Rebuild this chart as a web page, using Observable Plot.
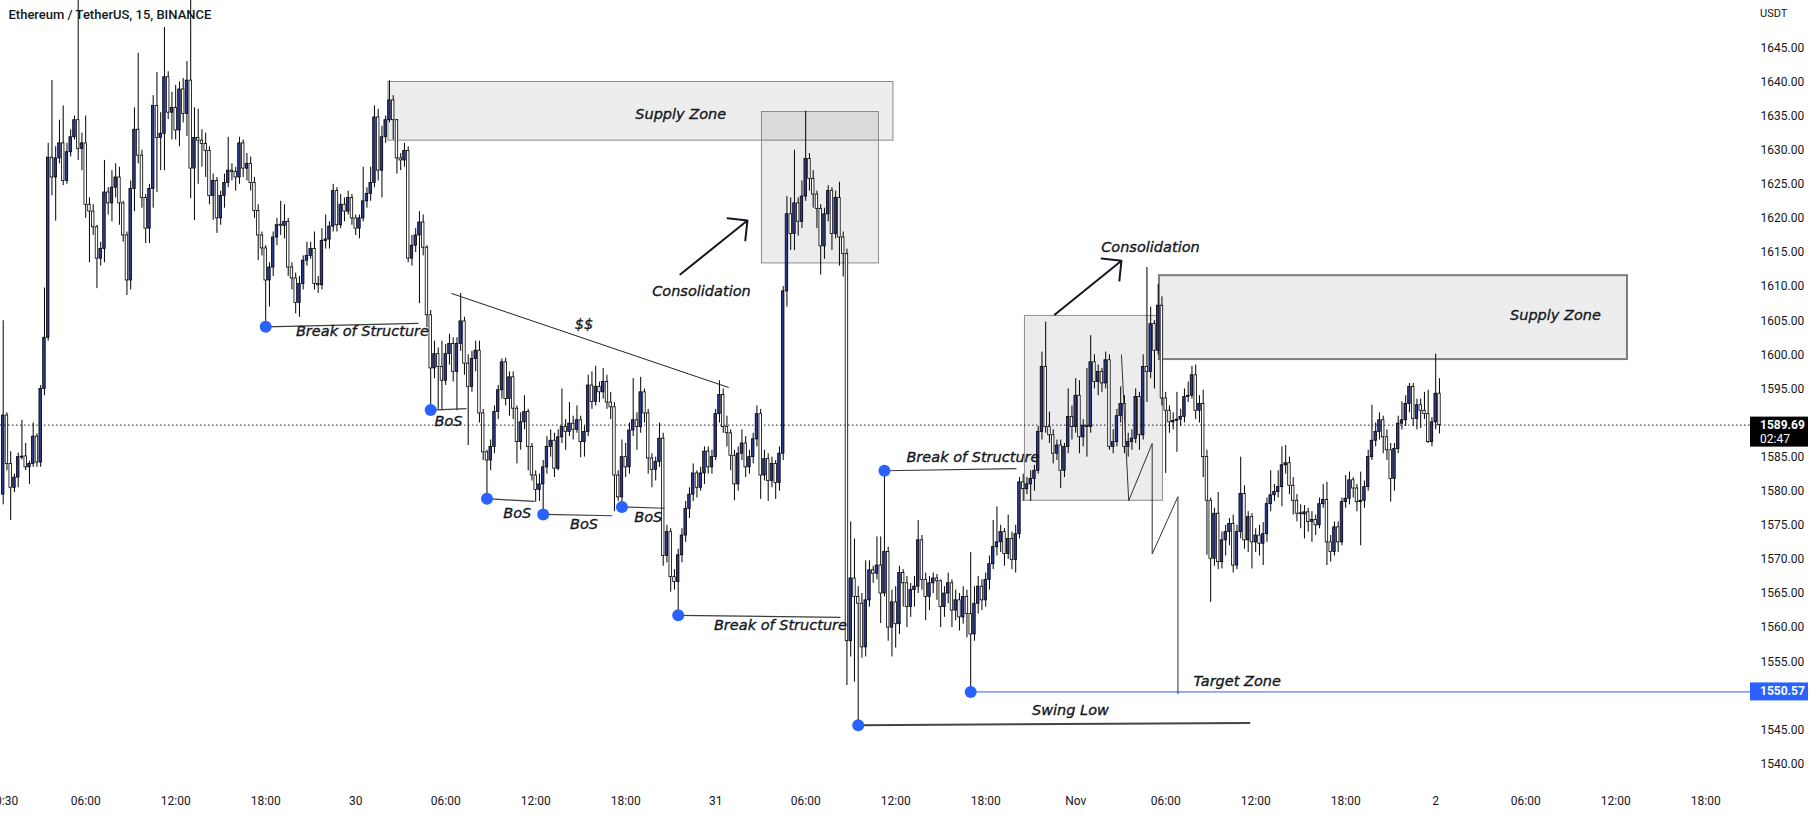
<!DOCTYPE html>
<html><head><meta charset="utf-8">
<script src="https://cdn.jsdelivr.net/npm/d3@7"></script>
<script src="https://cdn.jsdelivr.net/npm/@observablehq/plot@0.6"></script>
<style>
html,body{margin:0;padding:0;background:#fff;}
#chart{width:1814px;height:818px;overflow:hidden;}
</style></head><body><div id="chart"></div>
<script>
// ---- Data: ETH/USDT 15-minute candles (Binance) ----
const startTime = "2022-10-29T00:30:00Z";   // time of the first candle
const barMinutes = 15;
const firstOpen = 1579.5;
const closes = [
1591.1,1584.0,1580.5,1582.0,1585.0,1585.1,1583.5,1584.0,1588.0,1584.2,
1595.0,1602.5,1628.9,1626.0,1628.8,1631.0,1625.5,1629.7,1631.9,1634.4,
1630.2,1631.0,1622.0,1621.0,1618.7,1614.1,1615.5,1623.8,1622.2,1624.5,
1626.0,1622.2,1617.5,1610.9,1624.3,1633.0,1629.2,1623.0,1618.5,1624.3,
1636.5,1631.8,1632.4,1640.7,1635.5,1636.2,1632.9,1638.9,1635.3,1640.2,
1627.3,1631.8,1631.4,1630.9,1629.9,1623.3,1625.5,1620.0,1623.3,1625.2,
1627.0,1626.8,1626.0,1631.0,1627.3,1628.0,1625.2,1621.1,1617.5,1615.6,
1610.9,1612.8,1617.2,1619.0,1618.9,1619.5,1612.8,1611.2,1607.6,1610.4,
1613.8,1614.5,1615.5,1610.4,1610.2,1616.7,1616.9,1618.8,1624.0,1619.0,
1622.0,1621.0,1623.0,1620.0,1618.5,1620.0,1622.5,1623.6,1625.2,1634.8,
1627.0,1631.9,1634.4,1637.3,1634.4,1628.8,1628.5,1629.9,1614.1,1616.0,
1617.5,1619.4,1615.7,1605.8,1598.0,1600.1,1598.2,1596.2,1600.1,1601.6,
1597.5,1601.6,1604.9,1598.7,1595.3,1599.4,1600.6,1591.4,1585.7,1584.5,
1586.5,1591.6,1594.8,1598.9,1593.5,1596.7,1592.1,1587.2,1590.1,1591.6,
1586.5,1582.3,1580.2,1581.0,1583.5,1586.5,1587.4,1583.3,1587.9,1589.4,
1588.7,1589.9,1589.0,1590.4,1587.2,1588.7,1595.5,1593.1,1595.3,1594.5,
1596.0,1593.0,1592.3,1582.3,1579.1,1585.0,1583.5,1588.9,1590.4,1589.4,
1594.5,1591.4,1584.8,1583.1,1584.3,1587.7,1570.5,1574.0,1567.4,1566.7,
1570.6,1573.5,1577.4,1579.5,1582.6,1580.5,1582.6,1585.8,1583.5,1585.0,
1591.3,1594.1,1589.4,1588.5,1585.2,1581.0,1585.5,1587.0,1583.5,1585.0,
1587.6,1591.3,1582.3,1584.7,1581.5,1584.0,1581.2,1585.5,1609.3,1620.6,
1617.7,1622.2,1619.5,1623.2,1628.7,1625.8,1623.5,1621.4,1615.9,1620.6,
1624.0,1617.7,1623.0,1617.2,1614.8,1558.0,1567.2,1564.5,1563.5,1557.1,
1564.0,1568.4,1567.9,1569.1,1565.0,1571.1,1560.0,1563.7,1560.5,1568.0,
1566.5,1563.0,1565.5,1566.0,1572.8,1567.0,1564.5,1566.5,1567.2,1566.8,
1563.0,1565.0,1566.5,1562.5,1564.0,1561.5,1564.5,1562.0,1559.0,1563.5,
1566.0,1564.0,1567.0,1569.3,1571.8,1572.5,1574.0,1570.8,1573.0,1569.9,
1573.7,1581.3,1580.3,1581.0,1581.8,1583.0,1588.7,1598.2,1589.4,1588.2,
1585.5,1586.7,1583.0,1586.5,1590.9,1589.4,1594.0,1587.9,1589.6,1589.4,
1598.9,1596.0,1597.5,1595.8,1599.2,1586.5,1587.2,1591.0,1592.8,1586.5,
1587.2,1587.7,1593.8,1588.2,1598.2,1597.5,1604.5,1600.6,1607.2,1593.6,
1591.8,1590.1,1590.3,1590.5,1590.9,1593.8,1594.0,1597.0,1591.8,1592.8,
1585.0,1578.6,1570.1,1576.7,1569.6,1572.8,1574.0,1575.2,1569.1,1574.0,
1579.6,1572.8,1576.2,1572.5,1573.5,1572.3,1573.7,1578.1,1579.4,1579.9,
1580.6,1583.8,1584.1,1580.8,1578.6,1576.7,1576.6,1576.9,1575.5,1575.8,
1575.0,1578.1,1578.7,1572.5,1571.1,1574.7,1572.5,1578.4,1578.9,1581.6,
1580.4,1578.4,1578.6,1580.6,1585.0,1587.4,1588.7,1590.4,1587.9,1586.0,
1581.8,1586.2,1589.9,1590.4,1592.8,1595.3,1590.6,1592.6,1591.8,1591.3,
1587.2,1590.1,1594.3,1589.69
];
const highs = [
1605.0,1591.5,1585.8,1582.5,1585.6,1590.4,1587.0,1584.4,1590.0,1588.4,
1595.5,1609.8,1631.0,1640.2,1630.5,1634.4,1636.5,1631.0,1633.0,1635.0,
1655.0,1632.5,1635.0,1623.0,1622.0,1619.0,1616.5,1628.5,1624.5,1627.0,
1628.0,1627.5,1622.5,1618.0,1625.5,1636.2,1644.2,1630.0,1623.5,1625.0,
1638.0,1641.4,1635.5,1648.0,1641.5,1638.5,1639.5,1640.0,1640.5,1643.0,
1655.0,1636.2,1636.0,1633.0,1632.5,1630.5,1626.5,1626.0,1624.0,1626.5,
1631.9,1628.0,1627.5,1631.9,1631.5,1629.5,1629.0,1626.0,1622.0,1618.0,
1616.0,1613.5,1618.0,1620.0,1622.5,1622.0,1620.0,1613.5,1612.0,1611.5,
1614.5,1616.5,1616.5,1618.0,1611.5,1618.5,1620.5,1619.5,1625.0,1624.5,
1623.5,1623.0,1624.0,1623.5,1620.5,1620.5,1627.5,1624.5,1627.5,1636.5,
1636.0,1633.5,1635.0,1640.2,1638.0,1634.5,1629.5,1631.0,1630.5,1617.5,
1618.5,1621.0,1620.5,1616.0,1606.5,1602.0,1601.0,1602.0,1601.5,1603.0,
1602.5,1602.5,1609.0,1605.5,1600.0,1600.5,1602.0,1602.0,1592.0,1586.0,
1587.5,1592.5,1595.5,1599.4,1599.5,1597.5,1597.5,1592.5,1591.5,1594.0,
1592.0,1587.0,1583.0,1582.5,1584.5,1588.0,1589.0,1588.5,1589.0,1595.0,
1590.5,1593.0,1591.0,1592.5,1591.0,1589.5,1597.0,1597.5,1598.3,1596.0,
1598.0,1597.0,1594.5,1593.0,1583.0,1587.5,1587.0,1590.0,1596.5,1591.5,
1596.7,1595.0,1592.0,1585.5,1585.0,1590.0,1588.5,1575.0,1574.5,1568.5,
1571.5,1574.5,1578.5,1580.5,1584.0,1583.0,1583.5,1586.5,1586.5,1586.0,
1592.0,1596.2,1595.0,1591.0,1589.0,1586.0,1586.5,1589.0,1588.0,1586.0,
1588.5,1592.5,1592.0,1586.0,1585.5,1585.0,1584.5,1586.5,1610.0,1623.2,
1623.0,1630.0,1623.0,1625.5,1635.7,1629.5,1627.0,1624.0,1622.0,1621.5,
1624.8,1624.5,1624.0,1625.3,1618.0,1615.5,1575.5,1573.0,1566.0,1565.0,
1569.8,1569.8,1569.0,1573.3,1573.3,1583.0,1571.8,1565.5,1566.0,1569.0,
1568.5,1567.5,1566.5,1567.5,1575.7,1573.5,1568.0,1567.5,1568.0,1567.8,
1567.0,1566.0,1568.0,1567.0,1565.5,1565.0,1566.0,1565.5,1571.0,1566.0,
1567.5,1567.0,1568.0,1570.5,1575.7,1577.7,1575.0,1574.5,1576.5,1574.0,
1575.0,1582.0,1582.5,1582.0,1583.0,1583.8,1589.5,1600.4,1604.8,1591.6,
1589.0,1587.5,1587.5,1587.0,1595.0,1592.5,1596.5,1596.2,1590.5,1598.0,
1602.8,1600.0,1598.5,1598.0,1600.4,1600.0,1589.0,1592.0,1595.3,1594.0,
1588.5,1589.0,1595.0,1594.5,1600.0,1612.8,1607.0,1605.0,1610.3,1608.5,
1594.5,1592.5,1591.5,1594.5,1592.0,1595.0,1596.0,1598.3,1598.5,1594.0,
1594.8,1586.0,1579.0,1577.5,1579.8,1574.0,1575.0,1576.0,1576.5,1575.0,
1585.0,1580.8,1577.0,1576.7,1574.5,1575.0,1575.4,1579.0,1583.0,1581.0,
1583.0,1586.5,1586.7,1585.0,1582.0,1579.5,1578.0,1577.9,1577.5,1577.0,
1576.5,1579.0,1581.0,1581.3,1573.5,1575.5,1575.5,1579.0,1582.3,1582.8,
1582.0,1581.0,1582.8,1581.5,1586.0,1592.6,1590.0,1591.5,1591.0,1589.0,
1587.0,1587.0,1591.0,1593.1,1594.0,1595.8,1595.8,1593.5,1593.5,1594.5,
1594.8,1590.8,1600.1,1596.5
];
const lows = [
1578.0,1583.0,1575.7,1579.8,1580.5,1584.6,1583.0,1581.0,1583.5,1583.5,
1583.5,1594.0,1602.0,1623.3,1619.6,1628.0,1624.8,1625.0,1629.0,1631.5,
1628.5,1627.0,1620.0,1613.5,1617.5,1609.7,1613.0,1613.5,1620.5,1619.5,
1623.0,1619.0,1616.5,1608.7,1609.5,1621.0,1628.0,1621.5,1616.3,1616.3,
1621.5,1623.8,1627.0,1627.0,1634.5,1631.5,1631.5,1630.5,1634.0,1632.0,
1622.9,1619.7,1625.0,1627.5,1626.0,1622.0,1619.7,1617.8,1619.0,1621.5,
1624.5,1625.5,1624.0,1625.0,1626.0,1625.5,1624.0,1620.0,1613.8,1614.5,
1604.1,1607.0,1611.5,1616.0,1617.5,1617.0,1611.5,1609.5,1606.0,1605.5,
1609.5,1613.0,1614.0,1609.5,1609.0,1609.5,1615.5,1615.5,1618.0,1618.0,
1618.5,1619.5,1620.5,1619.0,1617.5,1617.0,1619.5,1621.5,1622.5,1624.5,
1625.5,1623.0,1631.0,1634.0,1631.5,1626.5,1627.0,1627.5,1613.5,1613.0,
1615.0,1607.5,1614.5,1604.0,1592.0,1596.5,1592.0,1591.8,1595.5,1598.5,
1596.0,1591.8,1600.5,1597.0,1586.7,1594.5,1597.5,1590.0,1584.5,1578.9,
1583.0,1585.5,1590.5,1593.5,1592.5,1591.0,1590.5,1584.0,1586.0,1589.0,
1583.0,1581.5,1578.4,1578.5,1576.6,1582.5,1585.0,1582.0,1583.0,1587.0,
1586.0,1588.0,1587.5,1588.5,1584.9,1585.0,1588.0,1592.0,1592.5,1593.0,
1593.5,1592.0,1590.5,1577.0,1578.5,1577.7,1582.0,1582.5,1588.0,1586.0,
1588.5,1590.0,1582.5,1580.5,1581.5,1583.5,1569.0,1569.5,1565.2,1565.5,
1561.8,1569.5,1572.5,1576.0,1578.5,1579.0,1580.0,1581.0,1582.5,1582.5,
1584.5,1590.0,1588.5,1586.5,1583.0,1578.6,1580.0,1584.5,1582.0,1582.5,
1584.0,1586.5,1578.8,1581.5,1578.5,1580.5,1578.8,1580.0,1584.5,1607.0,
1615.3,1615.3,1617.4,1618.5,1622.5,1624.0,1621.5,1618.5,1611.7,1614.0,
1619.5,1615.3,1617.0,1613.0,1611.4,1551.5,1555.7,1552.0,1545.7,1555.5,
1555.7,1563.0,1566.5,1567.0,1560.6,1564.5,1558.0,1555.7,1557.0,1559.0,
1563.0,1560.0,1561.5,1563.0,1565.0,1565.5,1561.0,1562.5,1565.0,1564.0,
1560.0,1561.5,1563.5,1560.0,1561.0,1559.5,1560.5,1558.5,1550.4,1558.0,
1562.0,1562.5,1563.0,1565.5,1568.5,1570.5,1571.0,1569.0,1570.0,1568.5,
1568.0,1573.0,1578.5,1579.5,1578.5,1580.0,1582.5,1587.5,1588.5,1587.0,
1584.0,1584.5,1580.4,1582.0,1585.5,1587.5,1588.5,1585.5,1586.5,1585.0,
1588.5,1595.0,1594.0,1594.5,1595.0,1586.0,1585.5,1586.5,1590.0,1585.5,
1585.0,1586.0,1587.0,1586.0,1587.5,1593.0,1596.5,1595.0,1600.0,1592.5,
1582.6,1588.5,1589.0,1585.7,1589.5,1590.0,1593.0,1593.5,1590.5,1590.0,
1582.0,1570.6,1563.7,1569.0,1568.5,1568.6,1570.5,1572.0,1568.0,1568.5,
1573.0,1571.5,1571.0,1568.6,1571.0,1570.5,1569.1,1572.5,1577.0,1578.5,
1579.0,1577.7,1582.5,1579.5,1576.5,1575.5,1574.5,1573.0,1574.0,1572.5,
1573.5,1574.5,1577.5,1569.1,1569.6,1570.5,1571.0,1572.0,1577.5,1578.0,
1579.0,1577.0,1572.0,1577.5,1580.0,1584.5,1586.5,1587.5,1585.5,1584.5,
1578.4,1580.0,1585.5,1589.0,1589.5,1591.5,1589.5,1589.0,1589.2,1590.5,
1587.0,1586.5,1589.0,1588.4
];
const lastPrice = 1589.69;
const countdown = "02:47";
const targetPrice = 1550.57;
const title = "Ethereum / TetherUS, 15, BINANCE";
const currency = "USDT";

// ---- Axis ticks ----
const xTickTimes = ["2022-10-29T00:30:00Z","2022-10-29T06:00:00Z","2022-10-29T12:00:00Z","2022-10-29T18:00:00Z",
  "2022-10-30T00:00:00Z","2022-10-30T06:00:00Z","2022-10-30T12:00:00Z","2022-10-30T18:00:00Z",
  "2022-10-31T00:00:00Z","2022-10-31T06:00:00Z","2022-10-31T12:00:00Z","2022-10-31T18:00:00Z",
  "2022-11-01T00:00:00Z","2022-11-01T06:00:00Z","2022-11-01T12:00:00Z","2022-11-01T18:00:00Z",
  "2022-11-02T00:00:00Z","2022-11-02T06:00:00Z","2022-11-02T12:00:00Z","2022-11-02T18:00:00Z"];
const xTickLabels = ["00:30","06:00","12:00","18:00","30","06:00","12:00","18:00","31","06:00","12:00","18:00",
  "Nov","06:00","12:00","18:00","2","06:00","12:00","18:00"];
const yTicks = [1540,1545,1555,1560,1565,1570,1575,1580,1585,1595,1600,1605,1610,1615,1620,1625,1630,1635,1640,1645];
const xDomain = ["2022-10-29T00:19:12Z","2022-11-02T20:59:12Z"];
const yDomain = [1536.85, 1651.95];

// ---- Drawings (time / price) ----
const supplyZones = [
  {from:"2022-10-30T02:11:00Z", to:"2022-10-31T11:51:00Z", top:1640.0, bottom:1631.4},
  {from:"2022-11-01T05:35:00Z", to:"2022-11-02T12:47:00Z", top:1611.6, bottom:1599.3}
];
const consolidationBoxes = [
  {from:"2022-10-31T03:05:00Z", to:"2022-10-31T10:53:00Z", top:1635.6, bottom:1613.4},
  {from:"2022-10-31T20:37:00Z", to:"2022-11-01T05:49:00Z", top:1605.7, bottom:1578.6}
];
const structureLevels = [
  {from:"2022-10-29T18:00:00Z", to:"2022-10-30T04:11:00Z", p1:1604.1, p2:1604.6},
  {from:"2022-10-30T05:00:00Z", to:"2022-10-30T07:23:00Z", p1:1591.9, p2:1592.1},
  {from:"2022-10-30T08:45:00Z", to:"2022-10-30T11:56:00Z", p1:1578.9, p2:1578.5},
  {from:"2022-10-30T12:30:00Z", to:"2022-10-30T17:06:00Z", p1:1576.6, p2:1576.4},
  {from:"2022-10-30T17:45:00Z", to:"2022-10-30T20:35:00Z", p1:1577.7, p2:1577.5},
  {from:"2022-10-30T21:30:00Z", to:"2022-10-31T08:19:00Z", p1:1561.8, p2:1561.5},
  {from:"2022-10-31T11:15:00Z", to:"2022-10-31T20:03:00Z", p1:1583.0, p2:1583.3}
];
const swingLow = {from:"2022-10-31T09:30:00Z", to:"2022-11-01T11:38:00Z", p1:1545.7, p2:1546.0};
const targetStart = "2022-10-31T17:00:00Z";
const liquidityLine = {from:"2022-10-30T06:23:00Z", p1:1609.0, to:"2022-10-31T00:52:00Z", p2:1595.2};
const arrows = [
  {from:"2022-10-30T21:39:00Z", p1:1611.8, to:"2022-10-31T02:07:00Z", p2:1619.7},
  {from:"2022-10-31T22:37:00Z", p1:1605.9, to:"2022-11-01T03:03:00Z", p2:1613.8}
];
const pathTimes = ["2022-11-01T03:03:00Z","2022-11-01T03:32:00Z","2022-11-01T05:06:00Z","2022-11-01T05:06:00Z","2022-11-01T06:49:00Z","2022-11-01T06:49:00Z"];
const pathPrices = [1600.0,1578.6,1587.0,1570.8,1579.2,1550.3];
const labels = [
  {text:"Supply Zone", time:"2022-10-30T21:40:00Z", price:1635.3},
  {text:"Supply Zone", time:"2022-11-02T07:59:00Z", price:1605.8},
  {text:"Consolidation", time:"2022-10-30T23:03:00Z", price:1609.3},
  {text:"Consolidation", time:"2022-11-01T04:59:00Z", price:1615.8},
  {text:"$$", time:"2022-10-30T15:13:00Z", price:1604.4},
  {text:"Break of Structure", time:"2022-10-30T00:27:00Z", price:1603.4},
  {text:"BoS", time:"2022-10-30T06:11:00Z", price:1590.3},
  {text:"BoS", time:"2022-10-30T10:46:00Z", price:1576.8},
  {text:"BoS", time:"2022-10-30T15:13:00Z", price:1575.1},
  {text:"BoS", time:"2022-10-30T19:30:00Z", price:1576.2},
  {text:"Break of Structure", time:"2022-10-31T04:19:00Z", price:1560.4},
  {text:"Break of Structure", time:"2022-10-31T17:09:00Z", price:1585.0},
  {text:"Swing Low", time:"2022-10-31T23:39:00Z", price:1547.8},
  {text:"Target Zone", time:"2022-11-01T10:46:00Z", price:1552.1}
];

// ---- Build ----
const T = s => new Date(s);
const t0 = +T(startTime);
const candles = closes.map((c, i) => {
  const o = i ? closes[i - 1] : firstOpen;
  return {time: new Date(t0 + i * barMinutes * 60000), open: o, close: c,
          high: Math.max(highs[i], o, c), low: Math.min(lows[i], o, c)};
});
const half = 5 * 60000;
const bodyTop = d => Math.abs(d.close - d.open) < 0.12 ? d.open + 0.07 : d.close;
const bodyBot = d => Math.abs(d.close - d.open) < 0.12 ? d.open - 0.07 : d.open;
const up = candles.filter(d => d.close > d.open);
const down = candles.filter(d => d.close <= d.open);
const labelByTime = new Map(xTickTimes.map((t, i) => [+T(t), xTickLabels[i]]));
const dots = [
  ...structureLevels.map(d => ({time: d.from, price: d.p1})),
  {time: swingLow.from, price: swingLow.p1},
  {time: targetStart, price: targetPrice}
];
const pathPts = pathTimes.map((t, i) => ({time: t, price: pathPrices[i]}));
const ink = "#131722";
const blue = "#2962ff";
const annFont = {fontFamily: "DejaVu Sans", fontStyle: "italic", fontSize: 14.5, fill: ink, stroke: ink, strokeWidth: 0.35};

const W = 1814, H = 818, MR = 64, MB = 33;
const svg = Plot.plot({
  width: W, height: H,
  marginLeft: 0, marginRight: MR, marginTop: 0, marginBottom: MB,
  style: {fontFamily: "Roboto, sans-serif", fontSize: "12px", color: ink, background: "#fff"},
  x: {type: "utc", domain: xDomain.map(T), ticks: xTickTimes.map(T), tickFormat: d => labelByTime.get(+d) ?? "",
      tickSize: 0, tickPadding: 11, label: null},
  y: {domain: yDomain, axis: "right", ticks: yTicks, tickFormat: d => d.toFixed(2), tickSize: 0, tickPadding: 10, label: null},
  marks: [
    // zones / boxes
    Plot.rect(supplyZones.slice(0,1), {x1: d => T(d.from), x2: d => T(d.to), y1: "bottom", y2: "top",
      fill: "#000", fillOpacity: 0.07, stroke: "#8c8c8c", strokeWidth: 1}),
    Plot.rect(supplyZones.slice(1), {x1: d => T(d.from), x2: d => T(d.to), y1: "bottom", y2: "top",
      fill: "#000", fillOpacity: 0.07, stroke: "#7d7d7d", strokeWidth: 2}),
    Plot.rect(consolidationBoxes, {x1: d => T(d.from), x2: d => T(d.to), y1: "bottom", y2: "top",
      fill: "#000", fillOpacity: 0.075, stroke: "#8c8c8c", strokeWidth: 1}),
    // current price line
    Plot.ruleY([lastPrice], {stroke: ink, strokeWidth: 1, strokeDasharray: "1.5,2.5"}),
    // candles
    Plot.ruleX(candles, {x: "time", y1: "low", y2: "high", stroke: "#000", strokeWidth: 1}),
    Plot.rect(down, {x1: d => new Date(+d.time - half), x2: d => new Date(+d.time + half), y1: bodyBot, y2: bodyTop,
      fill: "#fff", stroke: "#000", strokeWidth: 0.8}),
    Plot.rect(up, {x1: d => new Date(+d.time - half), x2: d => new Date(+d.time + half), y1: bodyBot, y2: bodyTop,
      fill: "#2b3990", stroke: "#000", strokeWidth: 0.8}),
    // lines
    Plot.link(structureLevels, {x1: d => T(d.from), y1: "p1", x2: d => T(d.to), y2: "p2", stroke: "#3c3c3c", strokeWidth: 1.2}),
    Plot.link([swingLow], {x1: d => T(d.from), y1: "p1", x2: d => T(d.to), y2: "p2", stroke: "#444", strokeWidth: 2}),
    Plot.link([liquidityLine], {x1: d => T(d.from), y1: "p1", x2: d => T(d.to), y2: "p2", stroke: "#222", strokeWidth: 1}),
    Plot.link([targetPrice], {x1: () => T(targetStart), x2: () => T(xDomain[1]), y1: d => d, y2: d => d, stroke: blue, strokeWidth: 1}),
    Plot.line(pathPts, {x: d => T(d.time), y: "price", stroke: "#333", strokeWidth: 1}),
    Plot.arrow(arrows, {x1: d => T(d.from), y1: "p1", x2: d => T(d.to), y2: "p2", stroke: ink, strokeWidth: 2,
      headLength: 15, headAngle: 90, bend: 0, insetStart: 0, insetEnd: 0}),
    Plot.dot(dots, {x: d => T(d.time), y: "price", r: 6, fill: blue, stroke: "none"}),
    // texts
    Plot.text(labels, {x: d => T(d.time), y: "price", text: "text", ...annFont}),
    Plot.text([title], {frameAnchor: "top-left", dx: 8, dy: 9, textAnchor: "start", lineAnchor: "top",
      fontSize: 13, fontFamily: "Roboto, sans-serif", fontWeight: 500, fill: ink})
  ]
});

// price-scale badges in the right margin, placed through the plot's y scale
const ys = svg.scale("y");
const yOf = ys.apply ? v => ys.apply(v) : d3.scaleLinear(ys.domain, ys.range);
const sel = d3.select(svg);
const axisX = W - MR;
const g = sel.append("g").attr("font-family", "Roboto, sans-serif").attr("font-size", 12).attr("text-anchor", "start");
g.append("text").attr("x", axisX + 10).attr("y", 17).attr("fill", ink).attr("font-size", 11).text(currency);
const yl = yOf(lastPrice);
g.append("rect").attr("x", axisX).attr("y", yl - 8).attr("width", 58).attr("height", 30).attr("fill", "#000");
g.append("text").attr("x", axisX + 10).attr("y", yl + 4).attr("fill", "#fff").attr("font-weight", 700).text(lastPrice.toFixed(2));
g.append("text").attr("x", axisX + 10).attr("y", yl + 18).attr("fill", "#fff").text(countdown);
const yt = yOf(targetPrice);
g.append("rect").attr("x", axisX).attr("y", yt - 9).attr("width", 58).attr("height", 18).attr("fill", blue);
g.append("text").attr("x", axisX + 10).attr("y", yt + 4).attr("fill", "#fff").attr("font-weight", 700).text(targetPrice.toFixed(2));

document.getElementById("chart").appendChild(svg);
</script>
</body></html>
